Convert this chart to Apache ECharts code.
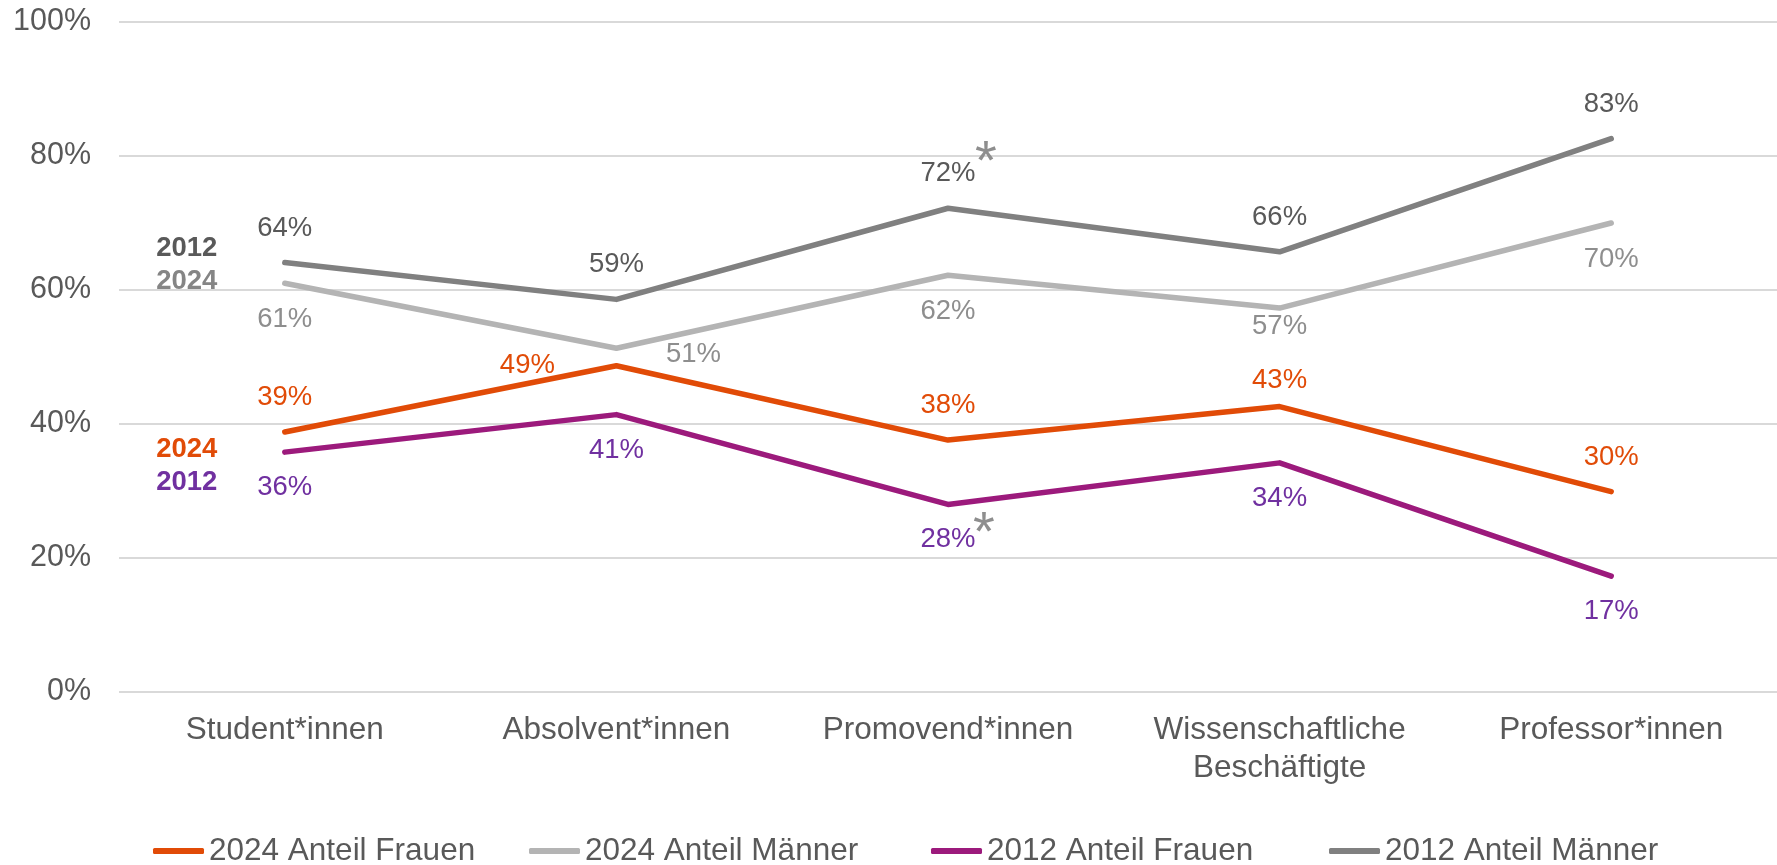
<!DOCTYPE html>
<html>
<head>
<meta charset="utf-8">
<script src="https://cdn.jsdelivr.net/npm/echarts@6/dist/echarts.min.js"></script>
<style>
html,body{margin:0;padding:0;background:#fff;}
#chart{width:1777px;height:865px;}
</style>
</head>
<body>
<div id="chart"></div>
<script>
const categories = ['Student*innen', 'Absolvent*innen', 'Promovend*innen', 'Wissenschaftliche\nBeschäftigte', 'Professor*innen'];
const frauen2024 = [38.8, 48.7, 37.6, 42.6, 29.9];
const maenner2024 = [61.0, 51.3, 62.2, 57.3, 70.0];
const frauen2012 = [35.8, 41.4, 28.0, 34.2, 17.3];
const maenner2012 = [64.1, 58.6, 72.2, 65.7, 82.6];
const seriesNames = ['2024 Anteil Frauen', '2024 Anteil Männer', '2012 Anteil Frauen', '2012 Anteil Männer'];
const yTicks = [0, 20, 40, 60, 80, 100];

const FONT = "'Liberation Sans', Arial, sans-serif";
const C = {
  f24: '#E14B07', f24L: '#E14B07',
  m24: '#B4B4B4', m24L: '#8E8E8E',
  f12: '#9C1A7C', f12L: '#7030A0',
  m12: '#808080', m12L: '#595959'
};
const LBL = 27.5;

function makeData(values, color, defPos, defDist, overrides) {
  return values.map((v, i) => {
    const o = (overrides && overrides[i]) || {};
    return {
      value: v,
      label: {
        show: true,
        position: o.position || defPos,
        distance: o.distance != null ? o.distance : defDist,
        offset: o.offset || [0, 0],
        color: color,
        opacity: 1,
        fontSize: LBL,
        fontFamily: FONT,
        formatter: p => Math.round(p.value) + '%'
      }
    };
  });
}

function annot(text, catIdx, values, color, offset, bold, size) {
  return {
    coord: [catIdx, values[catIdx]],
    symbol: 'circle', symbolSize: 1,
    itemStyle: { color: 'rgba(0,0,0,0)' },
    label: {
      show: true, position: 'inside', formatter: text, color: color,
      fontSize: size, fontWeight: bold ? 'bold' : 'normal', fontFamily: FONT, offset: offset
    }
  };
}

function lineSeries(name, values, lineColor, labelColor, defPos, defDist, overrides, marks) {
  return {
    name: name, type: 'line', symbol: 'circle', symbolSize: 1, showSymbol: true,
    lineStyle: { color: lineColor, width: 5.5, cap: 'round', join: 'round' },
    itemStyle: { color: lineColor },
    emphasis: { disabled: true },
    data: makeData(values, labelColor, defPos, defDist, overrides),
    markPoint: marks ? { silent: true, animation: false, data: marks } : undefined
  };
}

const chart = echarts.init(document.getElementById('chart'));
const legendLefts = [153, 529, 931, 1329];
const legendColors = [C.f24, C.m24, C.f12, C.m12];

const option = {
  animation: false,
  backgroundColor: '#ffffff',
  textStyle: { fontFamily: FONT },
  grid: { left: 119, right: -8, top: 22, bottom: 173, containLabel: false },
  legend: seriesNames.map((n, i) => ({
    data: [{ name: n, icon: 'roundRect', itemStyle: { color: legendColors[i], opacity: 1 } }],
    left: legendLefts[i], top: 835, padding: 0, itemWidth: 51, itemHeight: 6,
    selectedMode: false,
    textStyle: { color: '#595959', fontSize: 31.5, fontFamily: FONT }
  })),
  xAxis: {
    type: 'category', data: categories, boundaryGap: true,
    axisLine: { show: false }, axisTick: { show: false },
    axisLabel: { color: '#595959', fontSize: 31.5, fontFamily: FONT, margin: 19, lineHeight: 38, interval: 0 }
  },
  yAxis: {
    type: 'value', min: yTicks[0], max: yTicks[yTicks.length - 1], interval: 20,
    axisLine: { show: false }, axisTick: { show: false },
    splitLine: { lineStyle: { color: '#D9D9D9', width: 2 } },
    axisLabel: { color: '#595959', fontSize: 30.5, fontFamily: FONT, margin: 28, formatter: '{value}%' }
  },
  series: [
    lineSeries(seriesNames[0], frauen2024, C.f24, C.f24L, 'top', 20,
      { 1: { position: 'left', distance: 61 }, 3: { distance: 12 } },
      [annot('2024', 0, frauen2024, C.f24, [-98, 17], true, 27.5)]),
    lineSeries(seriesNames[1], maenner2024, C.m24, C.m24L, 'bottom', 22,
      { 1: { position: 'right', distance: 49, offset: [0, 6] }, 3: { distance: 4 } },
      [annot('2024', 0, maenner2024, '#858585', [-98, -2], true, 27.5)]),
    lineSeries(seriesNames[2], frauen2012, C.f12, C.f12L, 'bottom', 21, null,
      [annot('2012', 0, frauen2012, C.f12L, [-98, 30], true, 27.5),
       annot('*', 2, frauen2012, '#8E8E8E', [36, 30], false, 56)]),
    lineSeries(seriesNames[3], maenner2012, C.m12, C.m12L, 'top', 20, null,
      [annot('2012', 0, maenner2012, C.m12L, [-98, -14], true, 27.5),
       annot('*', 2, maenner2012, '#8E8E8E', [38, -45], false, 56)])
  ]
};
chart.setOption(option);
</script>
</body>
</html>
